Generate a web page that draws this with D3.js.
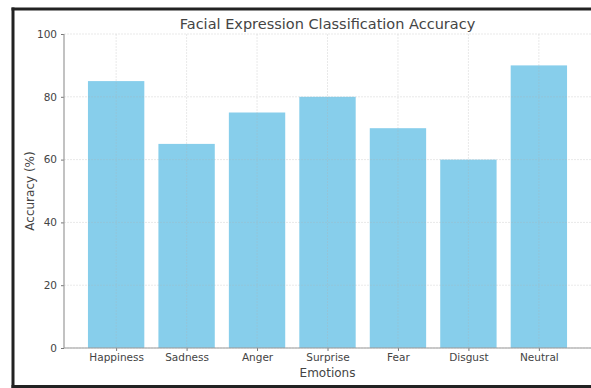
<!DOCTYPE html>
<html>
<head>
<meta charset="utf-8">
<script src="https://cdn.jsdelivr.net/npm/d3@7"></script>
<style>
  html, body { margin: 0; background: #fff; overflow: hidden; }
  svg { display: block; font-family: "DejaVu Sans", sans-serif; }
</style>
</head>
<body>
<div id="chart"></div>
<script>
// chart values
const emotions = ["Happiness", "Sadness", "Anger", "Surprise", "Fear", "Disgust", "Neutral"];
const accuracy = [85, 65, 75, 80, 70, 60, 90];
const yTicks = [0, 20, 40, 60, 80, 100];

const W = 591, H = 388;
const margin = {top: 34, right: 0, bottom: 40, left: 64};
const width = W - margin.left - margin.right;
const height = H - margin.top - margin.bottom;

const svg = d3.select("#chart").append("svg")
	.attr("width", W)
	.attr("height", H);

// outer frame: left, top and bottom edges only (right edge is cropped off)
const frame = svg.append("g")
	.attr("stroke", "#222")
	.attr("stroke-width", 3);
frame.append("line").attr("x1", 13).attr("x2", 13).attr("y1", 7.5).attr("y2", 388);
frame.append("line").attr("x1", 11.5).attr("x2", W).attr("y1", 9).attr("y2", 9);
frame.append("line").attr("x1", 11.5).attr("x2", W).attr("y1", 386.5).attr("y2", 386.5);

const g = svg.append("g")
	.attr("transform", "translate(" + margin.left + "," + margin.top + ")");

// matplotlib-like linear x: category index, padded
const x = d3.scaleLinear()
	.domain([-0.74, 6.74])
	.range([0, width]);
const bw = x(0.4) - x(-0.4);

const y = d3.scaleLinear()
	.domain([0, 100])
	.range([height, 0]);

// bars
g.selectAll(".bar")
	.data(emotions)
	.enter().append("rect")
	.attr("class", "bar")
	.attr("x", (d, i) => x(i) - bw / 2)
	.attr("y", (d, i) => y(accuracy[i]))
	.attr("width", bw)
	.attr("height", (d, i) => height - y(accuracy[i]))
	.attr("fill", "#87ceeb");

// grid lines (drawn above bars)
g.append("g").selectAll("line")
	.data(yTicks)
	.enter().append("line")
	.attr("x1", 0).attr("x2", width)
	.attr("y1", d => y(d)).attr("y2", d => y(d))
	.attr("stroke", "#b0b0b0")
	.attr("stroke-opacity", 0.35)
	.attr("stroke-dasharray", "2,1")
	.attr("stroke-width", 0.8);

g.append("g").selectAll("line")
	.data(emotions)
	.enter().append("line")
	.attr("x1", (d, i) => x(i)).attr("x2", (d, i) => x(i))
	.attr("y1", 0).attr("y2", height)
	.attr("stroke", "#b0b0b0")
	.attr("stroke-opacity", 0.35)
	.attr("stroke-dasharray", "2,1")
	.attr("stroke-width", 0.8);

// axes
const yAxis = d3.axisLeft(y).tickValues(yTicks).tickSize(3).tickPadding(4);
const xAxis = d3.axisBottom(x)
	.tickValues(d3.range(emotions.length))
	.tickFormat(i => emotions[i])
	.tickSize(3).tickPadding(3);

g.append("g")
	.attr("class", "y-axis")
	.call(yAxis);

g.append("g")
	.attr("class", "x-axis")
	.attr("transform", "translate(0," + height + ")")
	.call(xAxis);

g.selectAll(".domain").remove();
g.append("line")
	.attr("x1", 0).attr("x2", 0).attr("y1", 0).attr("y2", height)
	.attr("stroke", "#999").attr("stroke-width", 1.2);
g.append("line")
	.attr("x1", 0).attr("x2", width).attr("y1", height).attr("y2", height)
	.attr("stroke", "#999").attr("stroke-width", 1.2);

g.selectAll(".tick line").attr("stroke", "#777");
g.selectAll(".tick text")
	.attr("fill", "#444")
	.style("font-size", "10.5px")
	.style("font-family", "'DejaVu Sans', sans-serif");

// title and labels
svg.append("text")
	.attr("x", margin.left + width / 2)
	.attr("y", 28.5)
	.attr("text-anchor", "middle")
	.attr("fill", "#444")
	.style("font-size", "14.5px")
	.text("Facial Expression Classification Accuracy");

svg.append("text")
	.attr("x", margin.left + width / 2)
	.attr("y", 377)
	.attr("text-anchor", "middle")
	.attr("fill", "#444")
	.style("font-size", "12px")
	.text("Emotions");

svg.append("text")
	.attr("transform", "translate(34," + (margin.top + height / 2) + ") rotate(-90)")
	.attr("text-anchor", "middle")
	.attr("fill", "#444")
	.style("font-size", "12px")
	.text("Accuracy (%)");
</script>
</body>
</html>
